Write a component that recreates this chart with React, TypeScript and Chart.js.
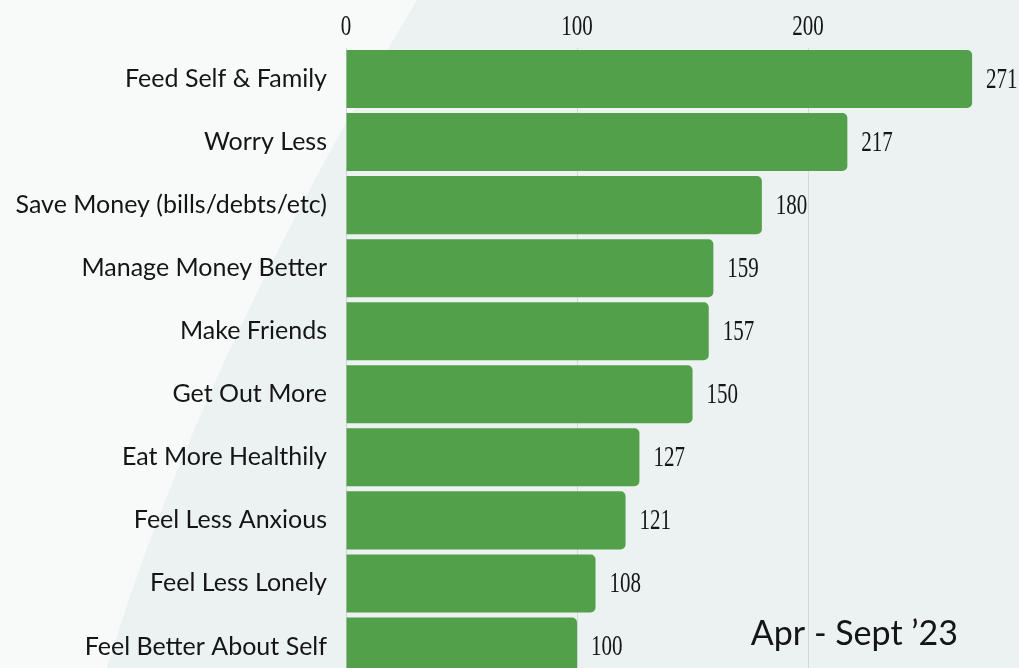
import React, { useEffect, useRef } from "react";
import { Chart, registerables } from "chart.js";

Chart.register(...registerables);

const categories = [
  "Feed Self & Family",
  "Worry Less",
  "Save Money (bills/debts/etc)",
  "Manage Money Better",
  "Make Friends",
  "Get Out More",
  "Eat More Healthily",
  "Feel Less Anxious",
  "Feel Less Lonely",
  "Feel Better About Self",
];
const counts = [271, 217, 180, 159, 157, 150, 127, 121, 108, 100];
const xTickValues = [0, 100, 200];
const periodLabel = "Apr - Sept \u201923";

const LABEL_FONT = "Lato, 'Open Sans', sans-serif";
const NUM_FONT = "'Liberation Serif', 'DejaVu Serif', serif";
const TEXT_COLOR = "#151515";
const CANVAS_H = 712;

function drawCondensed(ctx: any, text: string, x: number, y: number, align: string) {
  ctx.save();
  ctx.translate(x, y);
  ctx.scale(0.7, 1);
  ctx.textAlign = align;
  ctx.textBaseline = "middle";
  ctx.fillText(text, 0, 0);
  ctx.restore();
}

const backgroundPlugin = {
  id: "bgShape",
  beforeDraw(chart: any) {
    const { ctx, width, height } = chart;
    ctx.save();
    ctx.fillStyle = "#ecf1f1";
    ctx.fillRect(0, 0, width, height);
    ctx.beginPath();
    ctx.moveTo(0, 0);
    ctx.lineTo(417, 0);
    ctx.quadraticCurveTo(198, 365, 107, 668);
    ctx.lineTo(95, height);
    ctx.lineTo(0, height);
    ctx.closePath();
    ctx.fillStyle = "#f8fafa";
    ctx.fill();
    ctx.restore();
  },
};

const labelPlugin = {
  id: "valueLabels",
  afterDraw(chart: any) {
    const { ctx, chartArea } = chart;
    const meta = chart.getDatasetMeta(0);
    const xScale = chart.scales.x;
    ctx.save();
    ctx.fillStyle = TEXT_COLOR;
    ctx.font = `30px ${NUM_FONT}`;
    meta.data.forEach((bar: any, i: number) => {
      drawCondensed(ctx, String(counts[i]), bar.x + 14, bar.y + 1, "left");
    });
    xScale.ticks.forEach((t: any) => {
      const px = xScale.getPixelForValue(t.value);
      drawCondensed(ctx, String(t.value), px, chartArea.top - 20, "center");
    });
    ctx.font = `34px ${LABEL_FONT}`;
    ctx.textAlign = "right";
    ctx.textBaseline = "alphabetic";
    ctx.fillText(periodLabel, 958, 645);
    ctx.restore();
  },
};

export default function App() {
  const canvasRef = useRef<HTMLCanvasElement | null>(null);

  useEffect(() => {
    document.body.style.margin = "0";
    const canvas = canvasRef.current;
    if (!canvas) return;
    const chart = new Chart(canvas, {
      type: "bar",
      data: {
        labels: categories,
        datasets: [
          {
            data: counts,
            backgroundColor: "#52a04a",
            borderRadius: 5,
            borderSkipped: "start",
            barPercentage: 0.92,
            categoryPercentage: 1,
          },
        ],
      },
      options: {
        indexAxis: "y",
        responsive: false,
        animation: false,
        layout: { padding: { left: 0, right: 3, top: 0, bottom: 1.5 } },
        plugins: {
          legend: { display: false },
          tooltip: { enabled: false },
        },
        scales: {
          x: {
            position: "top",
            min: 0,
            max: 290,
            afterBuildTicks: (axis: any) => {
              axis.ticks = axis.ticks.filter((t: any) => xTickValues.includes(t.value));
            },
            afterFit: (scale: any) => {
              scale.height = 47.5;
            },
            grid: { color: "#d3d9d9", lineWidth: 1, drawTicks: false },
            border: { display: false },
            ticks: { display: false },
          },
          y: {
            afterFit: (scale: any) => {
              scale.width = 346;
            },
            grid: { display: false, drawTicks: false },
            border: { display: false },
            ticks: {
              color: TEXT_COLOR,
              font: { family: LABEL_FONT, size: 25 },
              padding: 19,
            },
          },
        },
      },
      plugins: [backgroundPlugin, labelPlugin],
    } as any);
    return () => chart.destroy();
  }, []);

  return (
    <div style={{ width: 1019, height: 668, overflow: "hidden", position: "relative" }}>
      <canvas
        ref={canvasRef}
        width={1019}
        height={CANVAS_H}
        style={{ display: "block", width: 1019, height: CANVAS_H }}
      />
    </div>
  );
}
